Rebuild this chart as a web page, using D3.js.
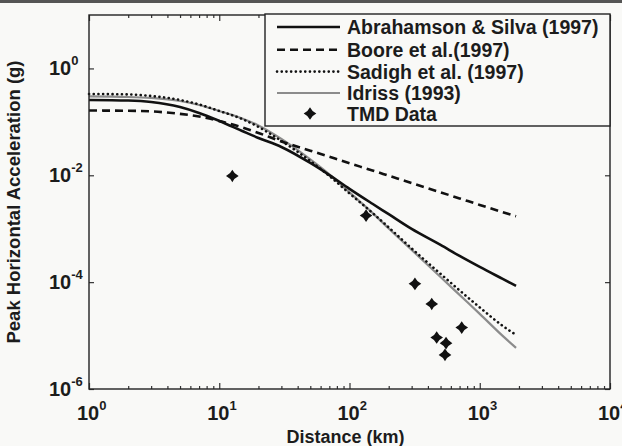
<!DOCTYPE html>
<html>
<head>
<meta charset="utf-8">
<script src="https://cdn.jsdelivr.net/npm/d3@7"></script>
<style>
body { margin: 0; background: #f9f9f7; }
svg { font-family: "Liberation Sans", Arial, sans-serif; }
.lbl { fill: #1c1c1c; font-weight: bold; }
</style>
</head>
<body>
<svg id="chart" width="622" height="446"></svg>
<script>
// distances (km) where the attenuation curves are sampled
var distances = [1, 2, 3, 5, 7, 10, 15, 20, 30, 50, 70, 100, 150, 200, 300, 500, 700, 1000, 1500, 1900];

// PGA (g)
var abrahamsonSilva = [0.257, 0.251, 0.236, 0.190, 0.147, 0.104, 0.0676, 0.0500, 0.0339, 0.0170, 0.0101, 0.00558, 0.00293, 0.00187, 0.00099, 0.000498, 0.00031, 0.000193, 0.000115, 0.0000851];
var boore = [0.163, 0.161, 0.157, 0.141, 0.126, 0.104, 0.0786, 0.0620, 0.0430, 0.0289, 0.0222, 0.0168, 0.0123, 0.00981, 0.00713, 0.00480, 0.00369, 0.00279, 0.00204, 0.00171];
var sadigh = [0.333, 0.326, 0.305, 0.257, 0.212, 0.160, 0.113, 0.0803, 0.0440, 0.0185, 0.00972, 0.00457, 0.00198, 0.00106, 0.000428, 0.000143, 0.0000701, 0.0000337, 0.0000152, 0.0000103];
var idriss = [0.299, 0.292, 0.280, 0.246, 0.207, 0.160, 0.116, 0.0857, 0.0479, 0.0198, 0.0104, 0.00478, 0.00198, 0.00101, 0.000401, 0.000125, 0.0000577, 0.0000255, 0.00000986, 0.00000589];

// TMD recorded data
var tmdDistance = [12.6, 134, 318, 428, 727, 467, 551, 541];
var tmdPga = [0.0097, 0.00176, 0.000093, 0.000039, 0.0000141, 0.0000092, 0.0000072, 0.00000435];

var legendNames = ["Abrahamson & Silva (1997)", "Boore et al.(1997)", "Sadigh et al. (1997)", "Idriss (1993)", "TMD Data"];
var xTickExps = [0, 1, 2, 3, 4];
var yTickExps = [0, -2, -4, -6];

var svg = d3.select("#chart");
var margin = {top: 15, right: 12, bottom: 57, left: 89},
    width = 622 - margin.left - margin.right,
    height = 446 - margin.top - margin.bottom;

// scanned page: dark rule along the top edge
svg.append("line")
    .attr("x1", 0).attr("x2", 622)
    .attr("y1", 1.5).attr("y2", 1.5)
    .attr("stroke", "#555")
    .attr("stroke-width", 3);

var g = svg.append("g")
    .attr("transform", "translate(" + margin.left + "," + margin.top + ")");

var x = d3.scaleLog()
    .domain([1, 1e4])
    .range([0, width]);

var y = d3.scaleLog()
    .domain([1e-6, 10])
    .range([height, 0]);

var allX = x.ticks();
var majorX = allX.filter(function (d) { return Math.abs(Math.log10(d) - Math.round(Math.log10(d))) < 1e-9; });
var minorX = allX.filter(function (d) { return majorX.indexOf(d) < 0; });
var majorY = yTickExps.map(function (e) { return Math.pow(10, e); });

function tickAxis(axis, vals, size) {
    return axis.tickValues(vals).tickSizeInner(-size).tickSizeOuter(0).tickFormat("");
}

var axes = [
    [d3.axisBottom(x), "translate(0," + height + ")", majorX, 6],
    [d3.axisBottom(x), "translate(0," + height + ")", minorX, 3],
    [d3.axisTop(x), "translate(0,0)", majorX, 6],
    [d3.axisTop(x), "translate(0,0)", minorX, 3],
    [d3.axisLeft(y), "translate(0,0)", majorY, 5],
    [d3.axisRight(y), "translate(" + width + ",0)", majorY, 5]
];

axes.forEach(function (a) {
    var ax = g.append("g")
        .attr("transform", a[1])
        .call(tickAxis(a[0], a[2], a[3]));
    ax.select(".domain").remove();
    ax.selectAll("line").attr("stroke", "#333").attr("stroke-width", 1.2);
});

// lines
var line = d3.line()
    .x(function (d) { return x(d[0]); })
    .y(function (d) { return y(d[1]); })
    .curve(d3.curveMonotoneX);

var styles = [
    {data: abrahamsonSilva, color: "#111", width: 2.6, dash: null, cap: "butt"},
    {data: boore, color: "#111", width: 2.6, dash: "8,5", cap: "butt"},
    {data: sadigh, color: "#111", width: 2.6, dash: "0.1,4.6", cap: "round"},
    {data: idriss, color: "#8c8c8c", width: 2.2, dash: null, cap: "butt"}
];

var curves = g.append("g");
[3, 2, 1, 0].forEach(function (i) {
    var s = styles[i];
    curves.append("path")
        .datum(distances.map(function (d, j) { return [d, s.data[j]]; }))
        .attr("fill", "none")
        .attr("stroke", s.color)
        .attr("stroke-width", s.width)
        .attr("stroke-dasharray", s.dash)
        .attr("stroke-linecap", s.cap)
        .attr("d", line);
});

// four point star marker
var starSymbol = {
    draw: function (context, size) {
        var r = Math.sqrt(size) / 2, c = r * 0.32;
        context.moveTo(0, -r);
        context.quadraticCurveTo(c, -c, r, 0);
        context.quadraticCurveTo(c, c, 0, r);
        context.quadraticCurveTo(-c, c, -r, 0);
        context.quadraticCurveTo(-c, -c, 0, -r);
        context.closePath();
    }
};
var marker = d3.symbol().type(starSymbol).size(160);

g.append("g").selectAll("path")
    .data(tmdDistance)
    .enter().append("path")
    .attr("transform", function (d, i) { return "translate(" + x(d) + "," + y(tmdPga[i]) + ")"; })
    .attr("fill", "#111")
    .attr("d", marker);

// frame
g.append("rect")
    .attr("width", width)
    .attr("height", height)
    .attr("fill", "none")
    .attr("stroke", "#222")
    .attr("stroke-width", 1.4);

// tick labels
var xl = g.append("g").attr("class", "lbl");
xTickExps.forEach(function (e) {
    var t = xl.append("text")
        .attr("x", x(Math.pow(10, e)) - 12)
        .attr("y", height + 31)
        .attr("font-size", 20);
    t.append("tspan").text("10");
    t.append("tspan").attr("dy", -10).attr("font-size", 13).text(e);
});

var yl = g.append("g").attr("class", "lbl");
yTickExps.forEach(function (e) {
    var t = yl.append("text")
        .attr("x", -40)
        .attr("y", y(Math.pow(10, e)) + 7)
        .attr("font-size", 20);
    t.append("tspan").text("10");
    t.append("tspan").attr("dy", -10).attr("font-size", 13).text(e === 0 ? "0" : "-" + Math.abs(e));
});

// axis titles
g.append("text")
    .attr("class", "lbl")
    .attr("x", width / 2 - 4)
    .attr("y", height + 54)
    .attr("text-anchor", "middle")
    .attr("font-size", 18)
    .text("Distance (km)");

g.append("text")
    .attr("class", "lbl")
    .attr("transform", "translate(" + (-69) + "," + (height / 2) + ") rotate(-90)")
    .attr("text-anchor", "middle")
    .attr("font-size", 18.5)
    .text("Peak Horizontal Acceleration (g)");

// legend
var legend = g.append("g")
    .attr("transform", "translate(" + (265 - margin.left) + "," + (14 - margin.top) + ")");

legend.append("rect")
    .attr("width", 345)
    .attr("height", 112)
    .attr("fill", "#f9f9f7")
    .attr("stroke", "#222")
    .attr("stroke-width", 1.4);

var rowY = [13, 35.8, 57.6, 79, 99.5];
var entries = legend.selectAll(".entry")
    .data(legendNames)
    .enter().append("g")
    .attr("class", "entry")
    .attr("transform", function (d, i) { return "translate(0," + rowY[i] + ")"; });

entries.each(function (d, i) {
    var e = d3.select(this);
    if (i < 4) {
        var s = styles[i];
        e.append("line")
            .attr("x1", 12).attr("x2", 75)
            .attr("stroke", s.color)
            .attr("stroke-width", s.width)
            .attr("stroke-dasharray", s.dash)
            .attr("stroke-linecap", s.cap);
    } else {
        e.append("path")
            .attr("transform", "translate(45,0)")
            .attr("fill", "#111")
            .attr("d", marker);
    }
    e.append("text")
        .attr("class", "lbl")
        .attr("x", 82)
        .attr("y", 7)
        .attr("font-size", 19.5)
        .text(d);
});
</script>
</body>
</html>
